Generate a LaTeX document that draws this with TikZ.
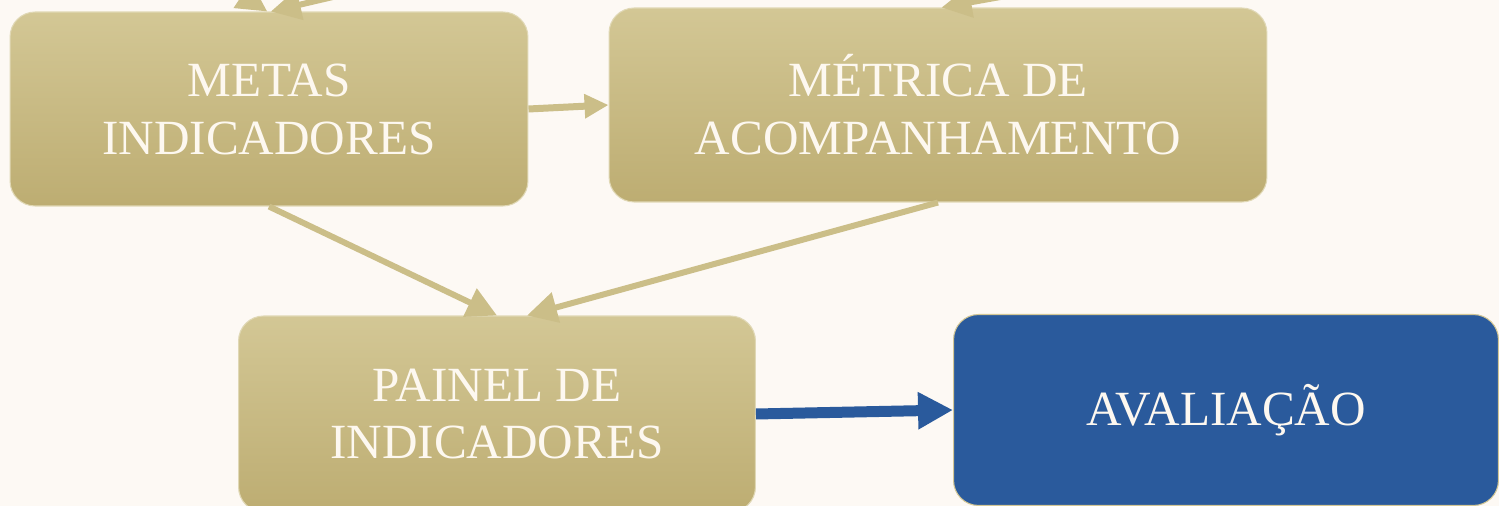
\documentclass[tikz,border=0pt]{standalone}
\usepackage{fontspec}
\setmainfont{Liberation Serif}
\usetikzlibrary{arrows.meta}
\definecolor{cream}{HTML}{FDF9F4}
\definecolor{goldtop}{HTML}{D3C795}
\definecolor{goldmid}{HTML}{CFC28A}
\definecolor{goldbot}{HTML}{BDAD72}
\definecolor{goldline}{HTML}{CBBE88}
\definecolor{evalblue}{HTML}{2A5A9C}
\definecolor{boxtext}{HTML}{FDF8F0}

\begin{document}
\begin{tikzpicture}[x=0.02cm,y=-0.02cm]
  \tikzset{basebox/.style={rectangle, rounded corners=0.5cm, line width=0.6pt, text=boxtext, align=center, font=\fontsize{28}{33}\selectfont, minimum height=3.88cm, inner sep=0pt}};
  \tikzset{goldbox/.style={basebox, draw=goldtop!70!white, top color=goldtop, middle color=goldmid, bottom color=goldbot}};
  \tikzset{bluebox/.style={basebox, draw=goldtop, fill=evalblue}};
  \tikzset{goldedge/.style={-{Triangle[length=0.6cm,width=0.6cm]}, draw=goldline, line width=0.12cm}};
  \tikzset{blueedge/.style={-{Triangle[length=0.7cm,width=0.7cm]}, draw=evalblue, line width=0.22cm}};

  \useasboundingbox (0,0) rectangle (1499,506);
  \clip (0,0) rectangle (1499,506);
  \fill[cream] (0,0) rectangle (1499,506);

  \node[goldbox, minimum width=10.36cm] (metas) at (269,109) {METAS\\INDICADORES};
  \node[goldbox, minimum width=13.16cm] (metrica) at (938,105) {MÉTRICA DE\\ACOMPANHAMENTO};
  \node[goldbox, minimum width=10.34cm, minimum height=3.92cm] (painel) at (497,414) {PAINEL DE\\INDICADORES};
  \node[bluebox, minimum width=10.9cm, minimum height=3.82cm] (aval) at (1226,410) {AVALIAÇÃO};

  % arrows coming from above the frame
  \coordinate (inA) at (40,-140);
  \coordinate (inB) at (620,-70);
  \coordinate (inC) at (1320,-60);
  \draw[goldedge] (inA) -- ([xshift=-1pt]metas.north);
  \draw[goldedge] (inB) -- ([xshift=1pt]metas.north);
  \draw[goldedge] (inC) -- ([xshift=2pt]metrica.north);

  \draw[goldedge, line width=0.14cm, -{Triangle[length=0.48cm,width=0.46cm]}] (metas.east) -- (metrica.west);
  \draw[goldedge] (metas.south) -- (painel.north);
  \draw[goldedge] (metrica.south) -- ([xshift=0.6cm]painel.north);
  \draw[blueedge] (painel.east) -- (aval.west);
\end{tikzpicture}
\end{document}
